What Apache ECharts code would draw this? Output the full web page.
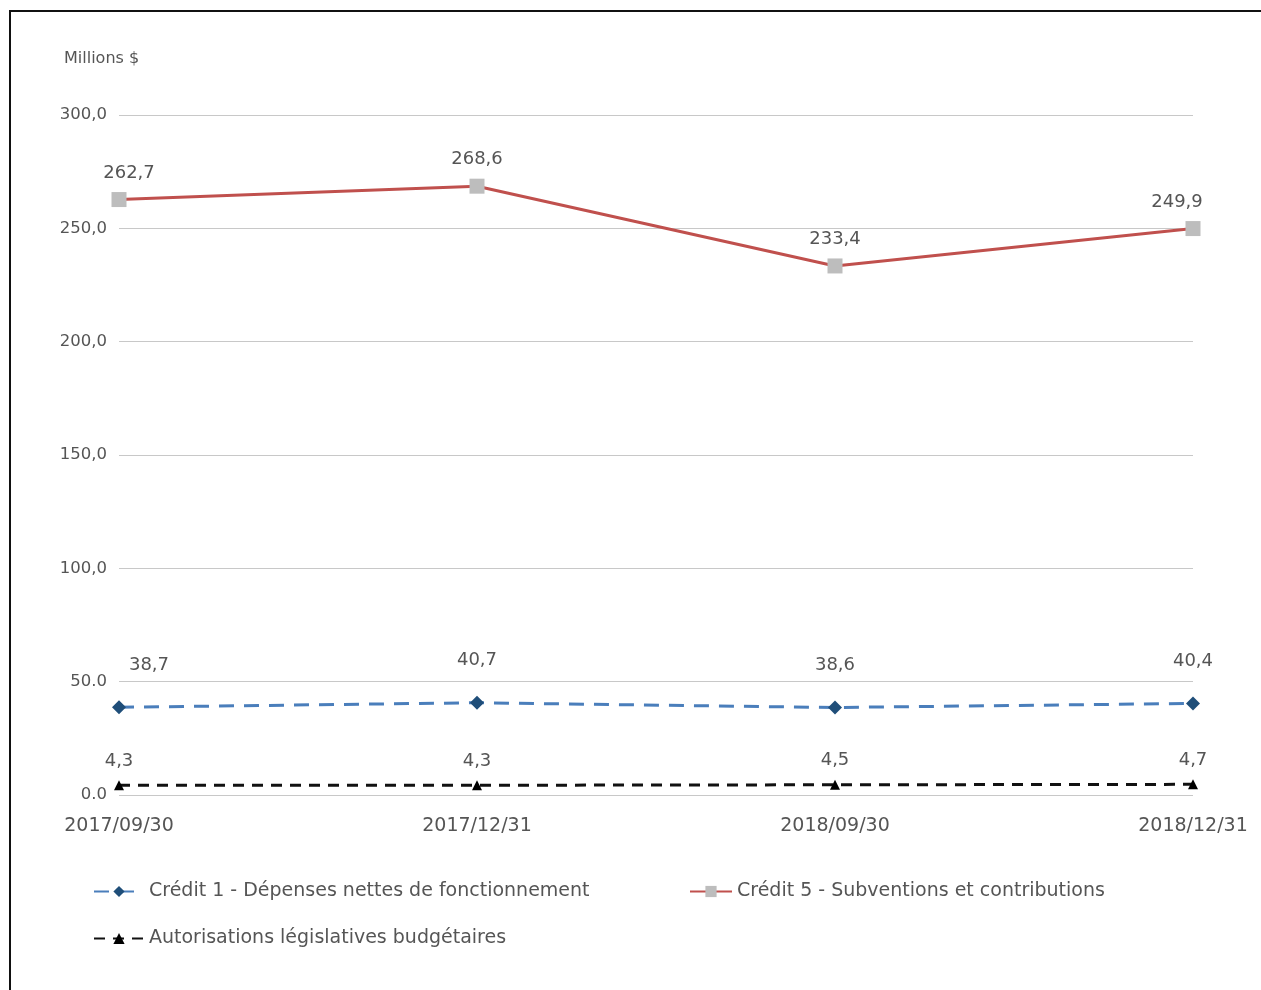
<!DOCTYPE html>
<html>
<head>
<meta charset="utf-8">
<script src="https://cdn.jsdelivr.net/npm/echarts@6/dist/echarts.min.js"></script>
<style>
  html, body { margin: 0; padding: 0; background: #fff; }
  #frame { position: absolute; left: 9px; top: 10px; width: 1260px; height: 990px; border-top: 2px solid #111; border-left: 2px solid #111; }
  #chart { position: absolute; left: 0; top: 0; width: 1261px; height: 990px; }
</style>
</head>
<body>
<div id="frame"></div>
<div id="chart"></div>
<script>
// categories and series values (Millions $)
const dates = ['2017/09/30', '2017/12/31', '2018/09/30', '2018/12/31'];
const credit1 = [38.7, 40.7, 38.6, 40.4];
const credit5 = [262.7, 268.6, 233.4, 249.9];
const autorisations = [4.3, 4.3, 4.5, 4.7];
const yTicks = ['0.0', '50.0', '100,0', '150,0', '200,0', '250,0', '300,0'];

const names = [
  'Crédit 1 - Dépenses nettes de fonctionnement',
  'Crédit 5 - Subventions et contributions',
  'Autorisations législatives budgétaires'
];

const font = '"DejaVu Sans", sans-serif';
const grey = '#555';
const fmt = p => p.value.toFixed(1).replace('.', ',');

// small horizontal nudges of some value labels, as in the original
function withOffsets(values, offsets) {
  return values.map((v, i) => offsets[i] ? { value: v, label: { offset: [offsets[i], 0] } } : v);
}

const legendText = { fontFamily: font, fontSize: 19, color: grey };

const myChart = echarts.init(document.getElementById('chart'));
const option = {
  animation: false,
  textStyle: { fontFamily: font },
  title: {
    text: 'Millions $',
    left: 59, top: 46,
    textStyle: { fontFamily: font, fontSize: 16, fontWeight: 'normal', color: grey }
  },
  grid: { left: 119, right: 68, top: 115, bottom: 195 },
  legend: [{
    data: [names[0]],
    left: 88, top: 877, itemWidth: 50, itemHeight: 14, itemGap: 10,
    textStyle: legendText
  }, {
    data: [names[1]],
    left: 684, top: 877, itemWidth: 42, itemHeight: 14,
    textStyle: legendText
  }, {
    data: [names[2]],
    left: 88, top: 924, itemWidth: 50, itemHeight: 14,
    textStyle: legendText
  }],
  xAxis: {
    type: 'category',
    boundaryGap: false,
    data: dates,
    axisLine: { show: false },
    axisTick: { show: false },
    axisLabel: { color: grey, fontSize: 19, margin: 22, fontFamily: font }
  },
  yAxis: {
    type: 'value',
    min: 0, max: 300, interval: 50,
    axisLabel: { color: grey, fontSize: 16.5, margin: 12, fontFamily: font,
      formatter: (v) => yTicks[Math.round(v / 50)] },
    splitLine: { lineStyle: { color: '#c8c8c8', width: 1.2 } }
  },
  series: [{
    name: names[0],
    type: 'line',
    data: withOffsets(credit1, [30, 0, 0, 0]),
    symbol: 'diamond', symbolSize: 14,
    itemStyle: { color: '#1f4e79' },
    lineStyle: { color: '#4a7ebb', width: 3, type: [15, 10] },
    label: { show: true, position: 'top', distance: 26, fontSize: 18, color: grey, formatter: fmt }
  }, {
    name: names[1],
    type: 'line',
    data: withOffsets(credit5, [10, 0, 0, -16]),
    symbol: 'rect', symbolSize: 15,
    itemStyle: { color: '#bdbdbd' },
    lineStyle: { color: '#c0504d', width: 3 },
    label: { show: true, position: 'top', distance: 10, fontSize: 18, color: grey, formatter: fmt }
  }, {
    name: names[2],
    type: 'line',
    data: autorisations,
    symbol: 'triangle', symbolSize: 10,
    itemStyle: { color: '#000' },
    lineStyle: { color: '#111', width: 3, type: [11, 8] },
    label: { show: true, position: 'top', distance: 10, fontSize: 18, color: grey, formatter: fmt }
  }]
};
myChart.setOption(option);
</script>
</body>
</html>
